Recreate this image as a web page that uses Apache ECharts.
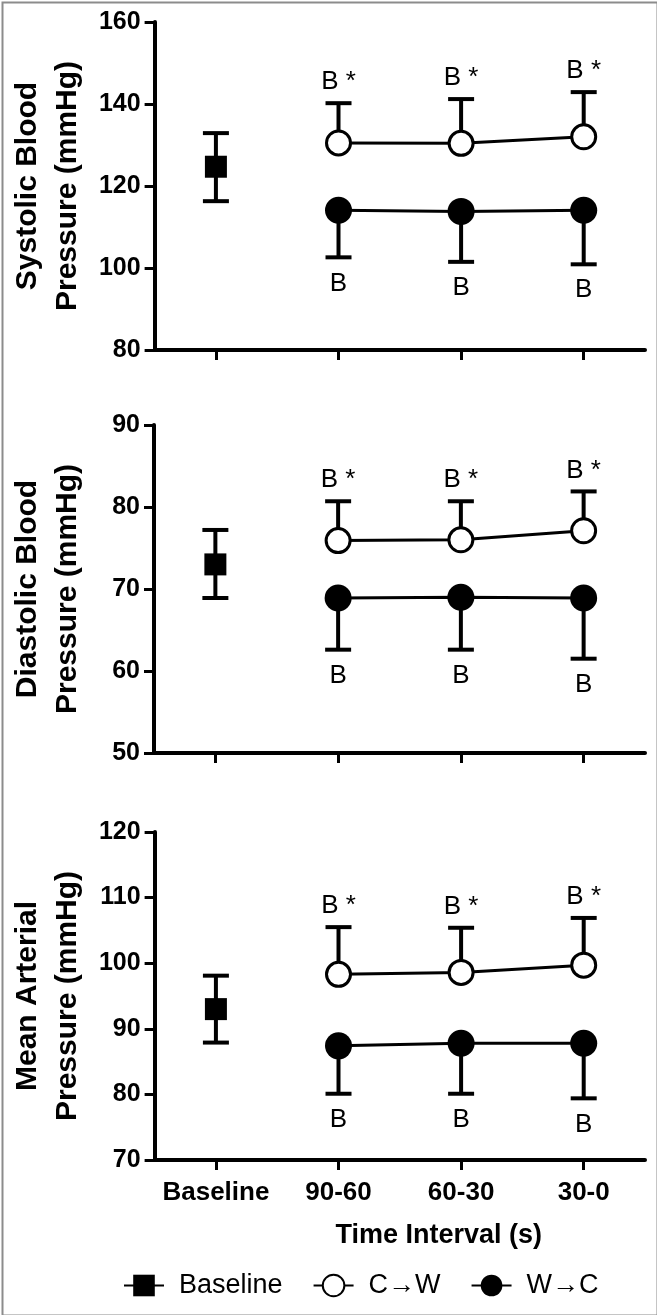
<!DOCTYPE html>
<html>
<head>
<meta charset="utf-8">
<title>Blood pressure</title>
<script src="https://cdn.jsdelivr.net/npm/echarts@6/dist/echarts.min.js"></script>
<style>
html,body{margin:0;padding:0;background:#fff;}
#main{width:657px;height:1315px;}
</style>
</head>
<body>
<div id="main"></div>
<script>
var categories = ['Baseline', '90-60', '60-30', '30-0'];
var legendNames = ['Baseline', 'C\u2192W', 'W\u2192C'];
var cwNote = 'B *';
var wcNote = 'B';

// systolic
var sysBase = [124.7, 116.3, 132.9]; // mean, lower, upper
var sysCW = [130.5, 130.4, 132.0];
var sysCWup = [140.2, 141.2, 142.9];
var sysWC = [114.1, 113.8, 114.1];
var sysWCdown = [102.6, 101.5, 100.9];
var sysTicks = [80, 160, 20];

// diastolic
var diaBase = [73.0, 68.9, 77.2];
var diaCW = [75.9, 76.0, 77.1];
var diaCWup = [80.7, 80.7, 81.9];
var diaWC = [68.9, 69.0, 68.9];
var diaWCdown = [62.6, 62.6, 61.5];
var diaTicks = [50, 90, 10];

// mean arterial
var mapBase = [93.0, 87.9, 98.1];
var mapCW = [98.3, 98.6, 99.7];
var mapCWup = [105.5, 105.4, 106.9];
var mapWC = [87.4, 87.8, 87.8];
var mapWCdown = [80.1, 80.1, 79.4];
var mapTicks = [70, 120, 10];

var FONT = '"Liberation Sans", Arial, Helvetica, sans-serif';

var panels = [
	{name: 'Systolic Blood\nPressure (mmHg)', top: 22, base: sysBase, cw: sysCW, cwUp: sysCWup, wc: sysWC, wcDown: sysWCdown, ticks: sysTicks},
	{name: 'Diastolic Blood\nPressure (mmHg)', top: 425, base: diaBase, cw: diaCW, cwUp: diaCWup, wc: diaWC, wcDown: diaWCdown, ticks: diaTicks},
	{name: 'Mean Arterial\nPressure (mmHg)', top: 832, base: mapBase, cw: mapCW, cwUp: mapCWup, wc: mapWC, wcDown: mapWCdown, ticks: mapTicks}
];

// error bar: stem from mean to end, cap at end, optional note
function makeErrRender(notes, side){
	return function(params, api){
		var x = api.value(0);
		var p1 = api.coord([x, api.value(1)]);
		var p2 = api.coord([x, api.value(2)]);
		var half = 13;
		var kids = [
			{type: 'line', shape: {x1: p1[0], y1: p1[1], x2: p2[0], y2: p2[1]}, style: {stroke: '#000', lineWidth: 4}},
			{type: 'line', shape: {x1: p2[0] - half, y1: p2[1], x2: p2[0] + half, y2: p2[1]}, style: {stroke: '#000', lineWidth: 4}}
		];
		var note = notes ? notes[params.dataIndex] : null;
		if(note){
			kids.push({
				type: 'text',
				x: p2[0],
				y: side == 'up' ? p2[1] - 21 : p2[1] + 26,
				style: {text: note, fill: '#000', font: '26px ' + FONT, align: 'center', verticalAlign: 'middle'}
			});
		}
		return {type: 'group', children: kids};
	};
}

var grids = [], xAxes = [], yAxes = [], series = [];
panels.forEach(function(p, i){
	var last = (i == panels.length - 1);
	grids.push({left: 152, right: 12, top: p.top, height: 328});
	xAxes.push({
		type: 'category',
		gridIndex: i,
		data: categories,
		boundaryGap: true,
		axisLine: {lineStyle: {color: '#000', width: 4}},
		axisTick: {show: true, interval: 0, alignWithLabel: true, length: 10, lineStyle: {color: '#000', width: 3}},
		axisLabel: {show: last, interval: 0, color: '#000', fontFamily: FONT, fontWeight: 'bold', fontSize: 26, margin: 20},
		name: last ? 'Time Interval (s)' : '',
		nameLocation: 'middle',
		nameGap: 62,
		nameTextStyle: {color: '#000', fontFamily: FONT, fontWeight: 'bold', fontSize: 27, padding: [0, 0, 0, 78]}
	});
	yAxes.push({
		type: 'value',
		gridIndex: i,
		min: p.ticks[0],
		max: p.ticks[1],
		interval: p.ticks[2],
		splitLine: {show: false},
		axisLine: {show: true, lineStyle: {color: '#000', width: 4}},
		axisTick: {show: true, length: 10, lineStyle: {color: '#000', width: 3}},
		axisLabel: {color: '#000', fontFamily: FONT, fontWeight: 'bold', fontSize: 25, margin: 14},
		name: p.name,
		nameLocation: 'middle',
		nameRotate: 90,
		nameGap: 66,
		nameTextStyle: {color: '#000', fontFamily: FONT, fontWeight: 'bold', fontSize: 30, lineHeight: 40, align: 'center'}
	});

	var cwErr = [], wcErr = [], cwLine = ['-'], wcLine = ['-'];
	for(var k = 0; k < p.cw.length; k++){
		cwErr.push([k + 1, p.cw[k], p.cwUp[k]]);
		wcErr.push([k + 1, p.wc[k], p.wcDown[k]]);
		cwLine.push(p.cw[k]);
		wcLine.push(p.wc[k]);
	}
	var cwNotes = p.cw.map(function(){ return cwNote; });
	var wcNotes = p.wc.map(function(){ return wcNote; });

	series.push({
		type: 'custom', xAxisIndex: i, yAxisIndex: i, z: 1, silent: true,
		renderItem: makeErrRender(null),
		data: [[0, p.base[0], p.base[1]], [0, p.base[0], p.base[2]]]
	});
	series.push({
		type: 'custom', xAxisIndex: i, yAxisIndex: i, z: 1, silent: true,
		renderItem: makeErrRender(cwNotes, 'up'),
		data: cwErr
	});
	series.push({
		type: 'custom', xAxisIndex: i, yAxisIndex: i, z: 1, silent: true,
		renderItem: makeErrRender(wcNotes, 'down'),
		data: wcErr
	});

	series.push({
		name: legendNames[0], type: 'line', xAxisIndex: i, yAxisIndex: i, z: 3,
		symbol: 'rect', symbolSize: 22,
		itemStyle: {color: '#000'},
		lineStyle: {color: '#000', width: 3},
		emphasis: {disabled: true},
		data: [p.base[0], '-', '-', '-']
	});
	series.push({
		name: legendNames[1], type: 'line', xAxisIndex: i, yAxisIndex: i, z: 3,
		symbol: 'circle', symbolSize: 24, showAllSymbol: true,
		itemStyle: {color: '#fff', borderColor: '#000', borderWidth: 3},
		lineStyle: {color: '#000', width: 3},
		emphasis: {disabled: true},
		data: cwLine
	});
	series.push({
		name: legendNames[2], type: 'line', xAxisIndex: i, yAxisIndex: i, z: 3,
		symbol: 'circle', symbolSize: 27, showAllSymbol: true,
		itemStyle: {color: '#000', borderColor: '#000', borderWidth: 0},
		lineStyle: {color: '#000', width: 3},
		emphasis: {disabled: true},
		data: wcLine
	});
});

var myChart = echarts.init(document.getElementById('main'));
var option = {
	backgroundColor: '#fff',
	animation: false,
	legend: {
		data: legendNames,
		left: 123,
		top: 1272,
		padding: 0,
		itemWidth: 40,
		itemHeight: 27,
		itemGap: 30,
		textStyle: {color: '#000', fontFamily: FONT, fontSize: 27, padding: [0, 0, 0, 10]}
	},
	graphic: [{
		type: 'rect', left: 0, top: 0, silent: true,
		shape: {x: 0, y: 0, width: 655, height: 1313},
		style: {fill: 'none', stroke: '#8c8c8c', lineWidth: 2}
	}],
	grid: grids,
	xAxis: xAxes,
	yAxis: yAxes,
	series: series
};
myChart.setOption(option);
</script>
</body>
</html>
